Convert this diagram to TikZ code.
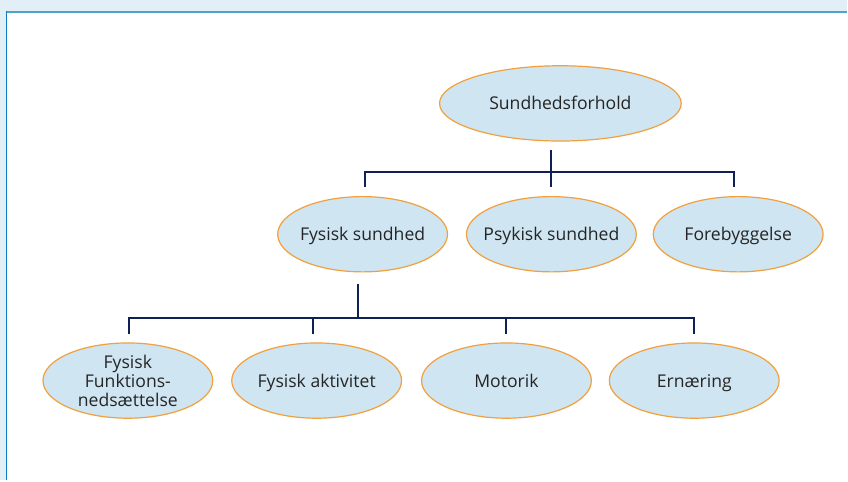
\documentclass[tikz,border=0pt]{standalone}
\usepackage{fontspec}
\setmainfont{Open Sans}
\usetikzlibrary{shapes.geometric}
\definecolor{bandblue}{HTML}{E2EFF7}
\definecolor{topframe}{HTML}{4FA3C8}
\definecolor{leftframe}{HTML}{0B7EC3}
\definecolor{bubblefill}{HTML}{CFE5F1}
\definecolor{bubbleedge}{HTML}{F2A03C}
\definecolor{linknavy}{HTML}{0E2152}
\definecolor{textgray}{HTML}{252525}
\tikzset{
  bubbletext/.style={text=textgray, font=\fontsize{13.2}{14.3}\selectfont,
    align=center, inner sep=0pt},
  onelinetext/.style={bubbletext, text height=11pt, text depth=1.2pt},
  bubble/.style={ellipse, draw=bubbleedge, fill=bubblefill, line width=0.9pt,
    minimum width=127.5pt, minimum height=56.5pt, inner sep=0pt,
    label={[onelinetext]center:#1}},
  multibubble/.style={ellipse, draw=bubbleedge, fill=bubblefill, line width=0.9pt,
    minimum width=127.5pt, minimum height=56.5pt, inner sep=0pt,
    label={[bubbletext]center:#1}},
  rootbubble/.style={bubble={#1}, minimum width=181.5pt},
  link/.style={draw=linknavy, line width=1.5pt}
}
\begin{document}
\begin{tikzpicture}[x=0.75pt,y=-0.75pt]
  % page frame
  \fill[bandblue] (0,0) rectangle (848,481);
  \fill[white] (7,12.5) rectangle (848,481);
  \draw[topframe, line width=1.4pt] (6,11.8) -- (848,11.8);
  \draw[leftframe, line width=1.1pt] (6.7,11) -- (6.7,481);
  \useasboundingbox (0,0) rectangle (848,481);

  % bubbles
  \node[rootbubble={Sundhedsforhold}] (root) at (561,103.5) {};
  \node[bubble={Fysisk sundhed}] (fys) at (363,234.5) {};
  \node[bubble={Psykisk sundhed}] (psy) at (552,234.5) {};
  \node[bubble={Forebyggelse}] (fore) at (739,234.5) {};
  \node[multibubble={Fysisk\\Funktions-\\nedsættelse}] (funk) at (128,381) {};
  \node[bubble={Fysisk aktivitet}] (akt) at (317,381) {};
  \node[bubble={Motorik}] (mot) at (507,381) {};
  \node[bubble={Ernæring}] (ern) at (695,381) {};

  % upper tree
  \coordinate (rootstem) at (552,150);
  \coordinate (topbar) at (552,172.5);
  \coordinate (dropfys) at (365,172.5);
  \coordinate (dropfore) at (734.5,172.5);
  \draw[link] (rootstem) -- (552,187);
  \draw[link] (365,187) -- (dropfys) -- (dropfore) -- (734.5,187);

  % lower tree
  \coordinate (fysstem) at (358,284);
  \coordinate (lowbar) at (358,318.5);
  \draw[link] (fysstem) -- (lowbar);
  \draw[link] (129,334) -- (129,318.5) -- (695,318.5) -- (695,334);
  \draw[link] (313,318.5) -- (313,334);
  \draw[link] (506.5,318.5) -- (506.5,334);
\end{tikzpicture}
\end{document}
